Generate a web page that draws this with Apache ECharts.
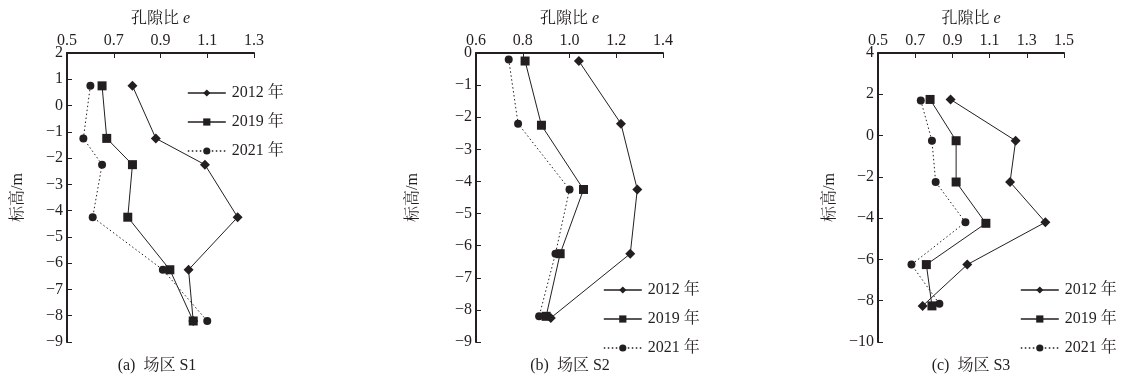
<!DOCTYPE html>
<html>
<head>
<meta charset="utf-8">
<script src="https://cdn.jsdelivr.net/npm/echarts@6/dist/echarts.min.js"></script>
<style>
  html, body { margin: 0; padding: 0; background: #fff; }
  #chart { width: 1129px; height: 378px; }
</style>
</head>
<body>
<div id="chart"></div>
<script>
// Void ratio e versus elevation (m) at three sites, surveyed in 2012, 2019 and 2021
const yearNames = ['2012 年', '2019 年', '2021 年'];

// Site S1
const s1Elev2012 = [0.75, -1.25, -2.25, -4.25, -6.25, -8.2];
const s1Void2012 = [0.78, 0.88, 1.09, 1.23, 1.02, 1.04];
const s1Elev2019 = [0.75, -1.25, -2.25, -4.25, -6.25, -8.2];
const s1Void2019 = [0.65, 0.67, 0.78, 0.76, 0.94, 1.04];
const s1Elev2021 = [0.75, -1.25, -2.25, -4.25, -6.25, -8.2];
const s1Void2021 = [0.60, 0.57, 0.65, 0.61, 0.91, 1.10];

// Site S2
const s2Elev2012 = [-0.25, -2.2, -4.25, -6.25, -8.25];
const s2Void2012 = [1.04, 1.22, 1.29, 1.26, 0.92];
const s2Elev2019 = [-0.25, -2.25, -4.25, -6.25, -8.2];
const s2Void2019 = [0.81, 0.88, 1.06, 0.96, 0.90];
const s2Elev2021 = [-0.2, -2.2, -4.25, -6.25, -8.2];
const s2Void2021 = [0.74, 0.78, 1.00, 0.94, 0.87];

// Site S3
const s3Elev2012 = [1.75, -0.25, -2.25, -4.2, -6.25, -8.25];
const s3Void2012 = [0.89, 1.24, 1.21, 1.40, 0.98, 0.74];
const s3Elev2019 = [1.75, -0.25, -2.25, -4.25, -6.25, -8.25];
const s3Void2019 = [0.78, 0.92, 0.92, 1.08, 0.76, 0.79];
const s3Elev2021 = [1.7, -0.25, -2.25, -4.2, -6.25, -8.15];
const s3Void2021 = [0.73, 0.79, 0.81, 0.97, 0.68, 0.83];

// Axis ticks
const s1VoidTicks = [0.5, 0.7, 0.9, 1.1, 1.3];
const s2VoidTicks = [0.6, 0.8, 1.0, 1.2, 1.4];
const s3VoidTicks = [0.5, 0.7, 0.9, 1.1, 1.3, 1.5];
const s1ElevRange = [-9, 2, 1];
const s2ElevRange = [-9, 0, 1];
const s3ElevRange = [-10, 4, 2];

const captions = ['(a)  场区 S1', '(b)  场区 S2', '(c)  场区 S3'];

const INK = '#231f20';
const FONT = '"Liberation Serif", "Noto Serif CJK SC", "Noto Sans CJK SC", serif';
const FS = 16;

const panels = [
  { grid: { left: 67, top: 53, width: 187, height: 289 }, ticks: s1VoidTicks, elev: s1ElevRange, yGap: 41,
    series: [[s1Void2012, s1Elev2012], [s1Void2019, s1Elev2019], [s1Void2021, s1Elev2021]],
    legend: { left: 187, top: 85 }, caption: 157 },
  { grid: { left: 476, top: 53, width: 187, height: 289 }, ticks: s2VoidTicks, elev: s2ElevRange, yGap: 55,
    series: [[s2Void2012, s2Elev2012], [s2Void2019, s2Elev2019], [s2Void2021, s2Elev2021]],
    legend: { left: 603, top: 282 }, caption: 570 },
  { grid: { left: 878, top: 53, width: 186, height: 289 }, ticks: s3VoidTicks, elev: s3ElevRange, yGap: 40,
    series: [[s3Void2012, s3Elev2012], [s3Void2019, s3Elev2019], [s3Void2021, s3Elev2021]],
    legend: { left: 1020, top: 282 }, caption: 971 }
];

const markers = [
  { symbol: 'diamond', size: 10, type: 'solid' },
  { symbol: 'rect', size: 9, type: 'solid' },
  { symbol: 'circle', size: 8, type: [1.5, 2.5] }
];

const minus = v => String(v).replace('-', '\u2212');

const grids = [], xAxes = [], yAxes = [], series = [], legends = [], graphics = [];

panels.forEach((p, i) => {
  grids.push(p.grid);
  xAxes.push({
    type: 'value', gridIndex: i, position: 'top',
    min: p.ticks[0], max: p.ticks[p.ticks.length - 1],
    name: '孔隙比 {e|e}', nameLocation: 'middle', nameGap: 26,
    nameTextStyle: { color: INK, fontFamily: FONT, fontSize: FS,
      rich: { e: { fontStyle: 'italic', fontFamily: FONT, fontSize: FS, color: INK } } },
    axisLine: { show: true, onZero: false, lineStyle: { color: INK, width: 2 } },
    axisTick: { show: true, inside: true, length: 5, customValues: p.ticks, lineStyle: { color: INK, width: 1 } },
    axisLabel: { customValues: p.ticks, margin: 4, color: INK, fontFamily: FONT, fontSize: FS,
      formatter: v => v.toFixed(1) },
    splitLine: { show: false }
  });
  yAxes.push({
    type: 'value', gridIndex: i,
    min: p.elev[0], max: p.elev[1], interval: p.elev[2],
    name: '标高/m', nameLocation: 'middle', nameGap: p.yGap,
    nameTextStyle: { color: INK, fontFamily: FONT, fontSize: FS },
    axisLine: { show: true, onZero: false, lineStyle: { color: INK, width: 2 } },
    axisTick: { show: true, inside: true, length: 5, lineStyle: { color: INK, width: 1 } },
    axisLabel: { margin: 4, color: INK, fontFamily: FONT, fontSize: FS, formatter: minus },
    splitLine: { show: false }
  });
  p.series.forEach((s, k) => {
    const m = markers[k];
    series.push({
      type: 'line', name: yearNames[k], xAxisIndex: i, yAxisIndex: i,
      data: s[0].map((v, j) => [v, s[1][j]]),
      symbol: m.symbol, symbolSize: m.size, showSymbol: true,
      lineStyle: { color: INK, width: 1, type: m.type },
      itemStyle: { color: INK },
      emphasis: { disabled: true },
      animation: false, z: 3 - k
    });
  });
  legends.push({
    left: p.legend.left, top: p.legend.top, orient: 'vertical', padding: 0,
    itemWidth: 38, itemHeight: 9, itemGap: 13,
    data: yearNames, selectedMode: false,
    lineStyle: { width: 1.6 },
    textStyle: { color: INK, fontFamily: FONT, fontSize: FS, padding: [0, 0, 0, 1] }
  });
  graphics.push({
    type: 'text', x: p.caption, y: 358,
    style: { text: captions[i], fill: INK, font: FS + 'px ' + FONT, textAlign: 'center', textVerticalAlign: 'top' }
  });
});

const chart = echarts.init(document.getElementById('chart'), null, { renderer: 'canvas' });
chart.setOption({
  backgroundColor: '#fff',
  animation: false,
  grid: grids,
  xAxis: xAxes,
  yAxis: yAxes,
  series: series,
  legend: legends,
  graphic: graphics
});
</script>
</body>
</html>
